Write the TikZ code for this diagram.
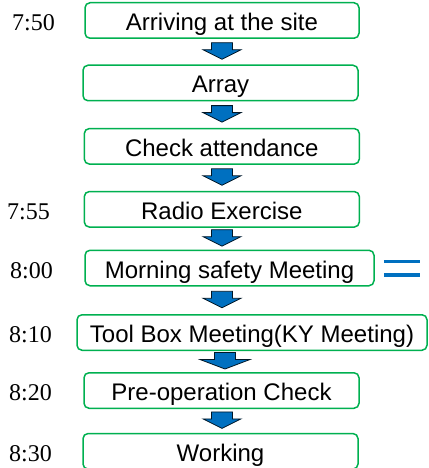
\documentclass[tikz,border=0pt]{standalone}
\usepackage{fontspec}
\setmainfont{Liberation Serif}
\setsansfont{Liberation Sans}
\usetikzlibrary{calc}
\definecolor{boxgreen}{RGB}{0,176,80}
\definecolor{arrowblue}{RGB}{0,112,192}

\begin{document}
\begin{tikzpicture}[
        x=1pt, y=-1pt,
        stepbox/.style = {draw=boxgreen, line width=1.5pt, rounded corners=5pt, minimum height=35.5pt,
            inner sep=0pt, text height=23pt, text depth=3pt, font=\sffamily\fontsize{24}{28}\selectfont},
        clock/.style = {anchor=base east, inner sep=0pt, font=\fontsize{24}{28}\selectfont},
        blockarrow/.style = {fill=arrowblue, draw=black!80!arrowblue, line width=0.8pt, line join=miter},
        eqbar/.style = {draw=arrowblue, line width=3.5pt}
    ]
        \useasboundingbox (0,0) rectangle (428,468);
        \clip (0,0) rectangle (428,468);
        \node[stepbox, minimum width=274pt] (arrive) at (222,20.5) {Arriving at the site};
        \node[stepbox, minimum width=275pt] (array) at (220.5,83) {Array};
        \node[stepbox, minimum width=275pt] (check) at (221.8,146.3) {Check attendance};
        \node[stepbox, minimum width=275pt] (radio) at (221.8,209.3) {Radio Exercise};
        \node[stepbox, minimum width=289pt] (morning) at (229.5,268) {Morning safety Meeting};
        \node[stepbox, minimum width=350pt] (toolbox) at (252,332.5) {Tool Box Meeting(KY Meeting)};
        \node[stepbox, minimum width=275pt] (precheck) at (221.5,390.5) {Pre-operation Check};
        \node[stepbox, minimum width=275pt] (working) at (220.5,451.3) {Working};
        \node[clock] (t750) at (55,0 |- arrive.base) {7:50};
        \node[clock] (t755) at (50,0 |- radio.base) {7:55};
        \node[clock] (t800) at (53,0 |- morning.base) {8:00};
        \node[clock] (t810) at (52,0 |- toolbox.base) {8:10};
        \node[clock] (t820) at (52,0 |- precheck.base) {8:20};
        \node[clock] (t830) at (52,0 |- working.base) {8:30};
        \foreach \a/\b/\x/\w in {arrive/array/222/19, array/check/222/19, check/radio/222/19,
                radio/morning/222/19, morning/toolbox/222/19, toolbox/precheck/225/25, precheck/working/222/19} {
            \coordinate (mid) at ($(\x,0 |- \a.south)!.5!(\x,0 |- \b.north)$);
            \draw[blockarrow] ($(mid)+(-10.5,-9)$) -- ++(21,0) -- ++(0,7) -- ++(\w-10.5,0)
                -- ($(mid)+(0,7.5)$) -- ($(mid)+(-\w,-2)$) -- ++(\w-10.5,0) -- cycle;
        }
        \draw[eqbar] ($(morning.east)+(9,-6.5)$) -- ++(36,0);
        \draw[eqbar] ($(morning.east)+(9,7)$) -- ++(36,0);
\end{tikzpicture}
\end{document}
